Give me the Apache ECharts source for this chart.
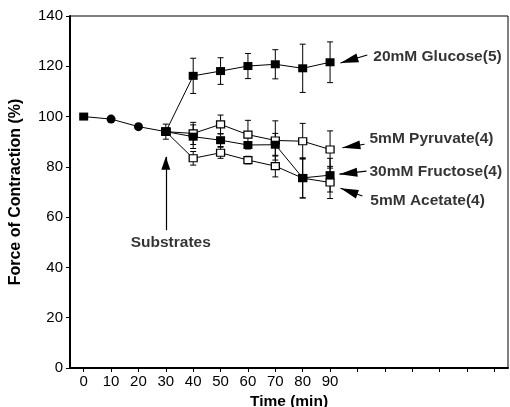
<!DOCTYPE html>
<html><head><meta charset="utf-8">
<script src="https://cdn.jsdelivr.net/npm/echarts@6/dist/echarts.min.js"></script>
<style>html,body{margin:0;padding:0;background:#fff}#c{width:510px;height:407px}</style>
</head><body><div id="c"></div>
<script>
// ---- data ----
const baselineTime = [0, 10, 20, 30];
const baselineValue = [100, 99, 96, 94];
const baselineErr = [0, 0.6, 0.8, 3];
const baselineSymbol = ['rect', 'circle', 'circle', 'rect'];

const substrateTime = [30, 40, 50, 60, 70, 80, 90];
const glucose = [94, 116.2, 118.1, 120.1, 120.8, 119.2, 121.6];
const glucoseErr = [0, 7, 5.3, 5, 5.8, 9.6, 8.1];
const pyruvate = [94, 93.3, 96.9, 92.8, 90.5, 90.2, 86.9];
const pyruvateErr = [0, 4.4, 3.7, 5.7, 7.8, 7.1, 7.4];
const fructose = [94, 92.0, 90.6, 88.7, 88.8, 75.6, 76.7];
const fructoseErr = [0, 4.7, 2.5, 1.2, 4.5, 8, 6.7];
const acetate = [94, 83.4, 85.6, 82.7, 80.3, 75.5, 73.8];
const acetateErr = [0, 2.7, 2.2, 1.5, 4.3, 7.8, 6.4];

const xTickValues = [0,10,20,30,40,50,60,70,80,90,100,110,120,130,140,150];
const xLabelValues = [0,10,20,30,40,50,60,70,80,90];

const seriesNames = ['20mM Glucose(5)', '5mM Pyruvate(4)', '30mM Fructose(4)', '5mM Acetate(4)'];
// annotation anchors (data coords): label start, arrow tail, arrow tip
const labelAnchor = [[105.8, 123.7], [104.4, 91.0], [104.4, 78.0], [104.7, 66.4]];
const arrowTail = [[103.6, 124.5], [102.6, 89.0], [103.3, 78.3], [101.8, 68.4]];
const arrowTip = [[93.8, 121.3], [94.5, 87.6], [93.4, 77.1], [93.8, 71.5]];
const substratesText = 'Substrates';
const substratesAnchor = [31.8, 49.8];
const substratesArrow = [[30, 54.8], [30, 84.0]];

// ---- helpers ----
const zip = (xs, ys) => xs.map((x, i) => [x, ys[i]]);
const zipErr = (xs, ys, es) => xs.map((x, i) => [x, ys[i], es[i]]);
const FONT = '"Liberation Sans", Arial, Helvetica, sans-serif';

function errSeries(data) {
  return {
    type: 'custom', silent: true, z: 1,
    data: data.filter(d => d[2] > 0),
    renderItem: function (params, api) {
      const x = api.value(0), y = api.value(1), e = api.value(2);
      const top = api.coord([x, y + e]);
      const bot = api.coord([x, y - e]);
      const w = 3;
      const style = { stroke: '#000', lineWidth: 1 };
      return { type: 'group', children: [
        { type: 'line', shape: { x1: top[0], y1: top[1], x2: bot[0], y2: bot[1] }, style },
        { type: 'line', shape: { x1: top[0] - w, y1: top[1], x2: top[0] + w, y2: top[1] }, style },
        { type: 'line', shape: { x1: bot[0] - w, y1: bot[1], x2: bot[0] + w, y2: bot[1] }, style }
      ]};
    }
  };
}

function lineSeries(name, data, filled, z) {
  return {
    name, type: 'line', data, z: z || 3,
    symbol: 'rect', symbolSize: filled ? [9, 8] : [8, 7],
    showSymbol: true,
    lineStyle: { color: '#000', width: 1 },
    itemStyle: { color: filled ? '#000' : '#fff', borderColor: '#000', borderWidth: filled ? 0 : 1.2 },
    emphasis: { disabled: true }, animation: false
  };
}

const chart = echarts.init(document.getElementById('c'), null, { renderer: 'canvas' });

const annotationData = seriesNames.map((t, i) => ({ value: labelAnchor[i], name: t }));
annotationData.push({ value: substratesAnchor, name: substratesText, label: { align: 'center' } });

const arrowLines = arrowTail.map((t, i) => [{ coord: t }, { coord: arrowTip[i] }]);
arrowLines.push([{ coord: substratesArrow[0] }, { coord: substratesArrow[1], symbolSize: [9, 13] }]);

const option = {
  animation: false,
  backgroundColor: '#fff',
  grid: { left: 70, right: 2, top: 16, bottom: 39, show: true, borderColor: '#000', borderWidth: 1,
          containLabel: false, outerBoundsMode: 'none' },
  xAxis: {
    type: 'value', min: -5, max: 155,
    name: 'Time (min)', nameLocation: 'middle', nameGap: 23,
    nameTextStyle: { fontFamily: FONT, fontWeight: 'bold', fontSize: 15.5, color: '#000' },
    axisLine: { show: true, onZero: false, lineStyle: { color: '#000', width: 2 } },
    axisTick: { show: true, length: 4, customValues: xTickValues, lineStyle: { color: '#000', width: 1 } },
    axisLabel: { customValues: xLabelValues, margin: 6, fontFamily: FONT, fontSize: 15, color: '#000' },
    splitLine: { show: false }
  },
  yAxis: {
    type: 'value', min: 0, max: 140, interval: 20,
    name: 'Force of Contraction (%)', nameLocation: 'middle', nameGap: 46,
    nameTextStyle: { fontFamily: FONT, fontWeight: 'bold', fontSize: 16, color: '#000' },
    axisLine: { show: true, onZero: false, lineStyle: { color: '#000', width: 2 } },
    axisTick: { show: true, length: 4, lineStyle: { color: '#000', width: 1 } },
    axisLabel: { margin: 7, fontFamily: FONT, fontSize: 15, color: '#000' },
    splitLine: { show: false }
  },
  series: [
    errSeries(zipErr(baselineTime, baselineValue, baselineErr)),
    errSeries(zipErr(substrateTime, glucose, glucoseErr)),
    errSeries(zipErr(substrateTime, pyruvate, pyruvateErr)),
    errSeries(zipErr(substrateTime, fructose, fructoseErr)),
    errSeries(zipErr(substrateTime, acetate, acetateErr)),
    lineSeries(seriesNames[0], zip(substrateTime, glucose), true),
    lineSeries(seriesNames[3], zip(substrateTime, acetate), false),
    lineSeries(seriesNames[1], zip(substrateTime, pyruvate), false),
    lineSeries(seriesNames[2], zip(substrateTime, fructose), true, 4),
    Object.assign(lineSeries('baseline', baselineTime.map((t, i) => ({
      value: [t, baselineValue[i]], symbol: baselineSymbol[i],
      symbolSize: baselineSymbol[i] === 'circle' ? 9 : [9, 8]
    })), true, 5), {
      markLine: {
        silent: true, animation: false,
        symbol: ['none', 'triangle'], symbolSize: [9, 18],
        symbolOffset: [0, [0, '50%']],
        label: { show: false },
        lineStyle: { color: '#000', width: 1.2, type: 'solid' },
        emphasis: { disabled: true },
        data: arrowLines
      }
    }),
    {
      type: 'scatter', silent: true, symbolSize: 0, z: 6,
      data: annotationData,
      label: {
        show: true, position: 'inside', align: 'left', verticalAlign: 'middle',
        formatter: p => p.name,
        fontFamily: FONT, fontWeight: 'bold', fontSize: 15.5, color: '#000'
      }
    }
  ]
};
chart.setOption(option);
</script>
</body></html>
